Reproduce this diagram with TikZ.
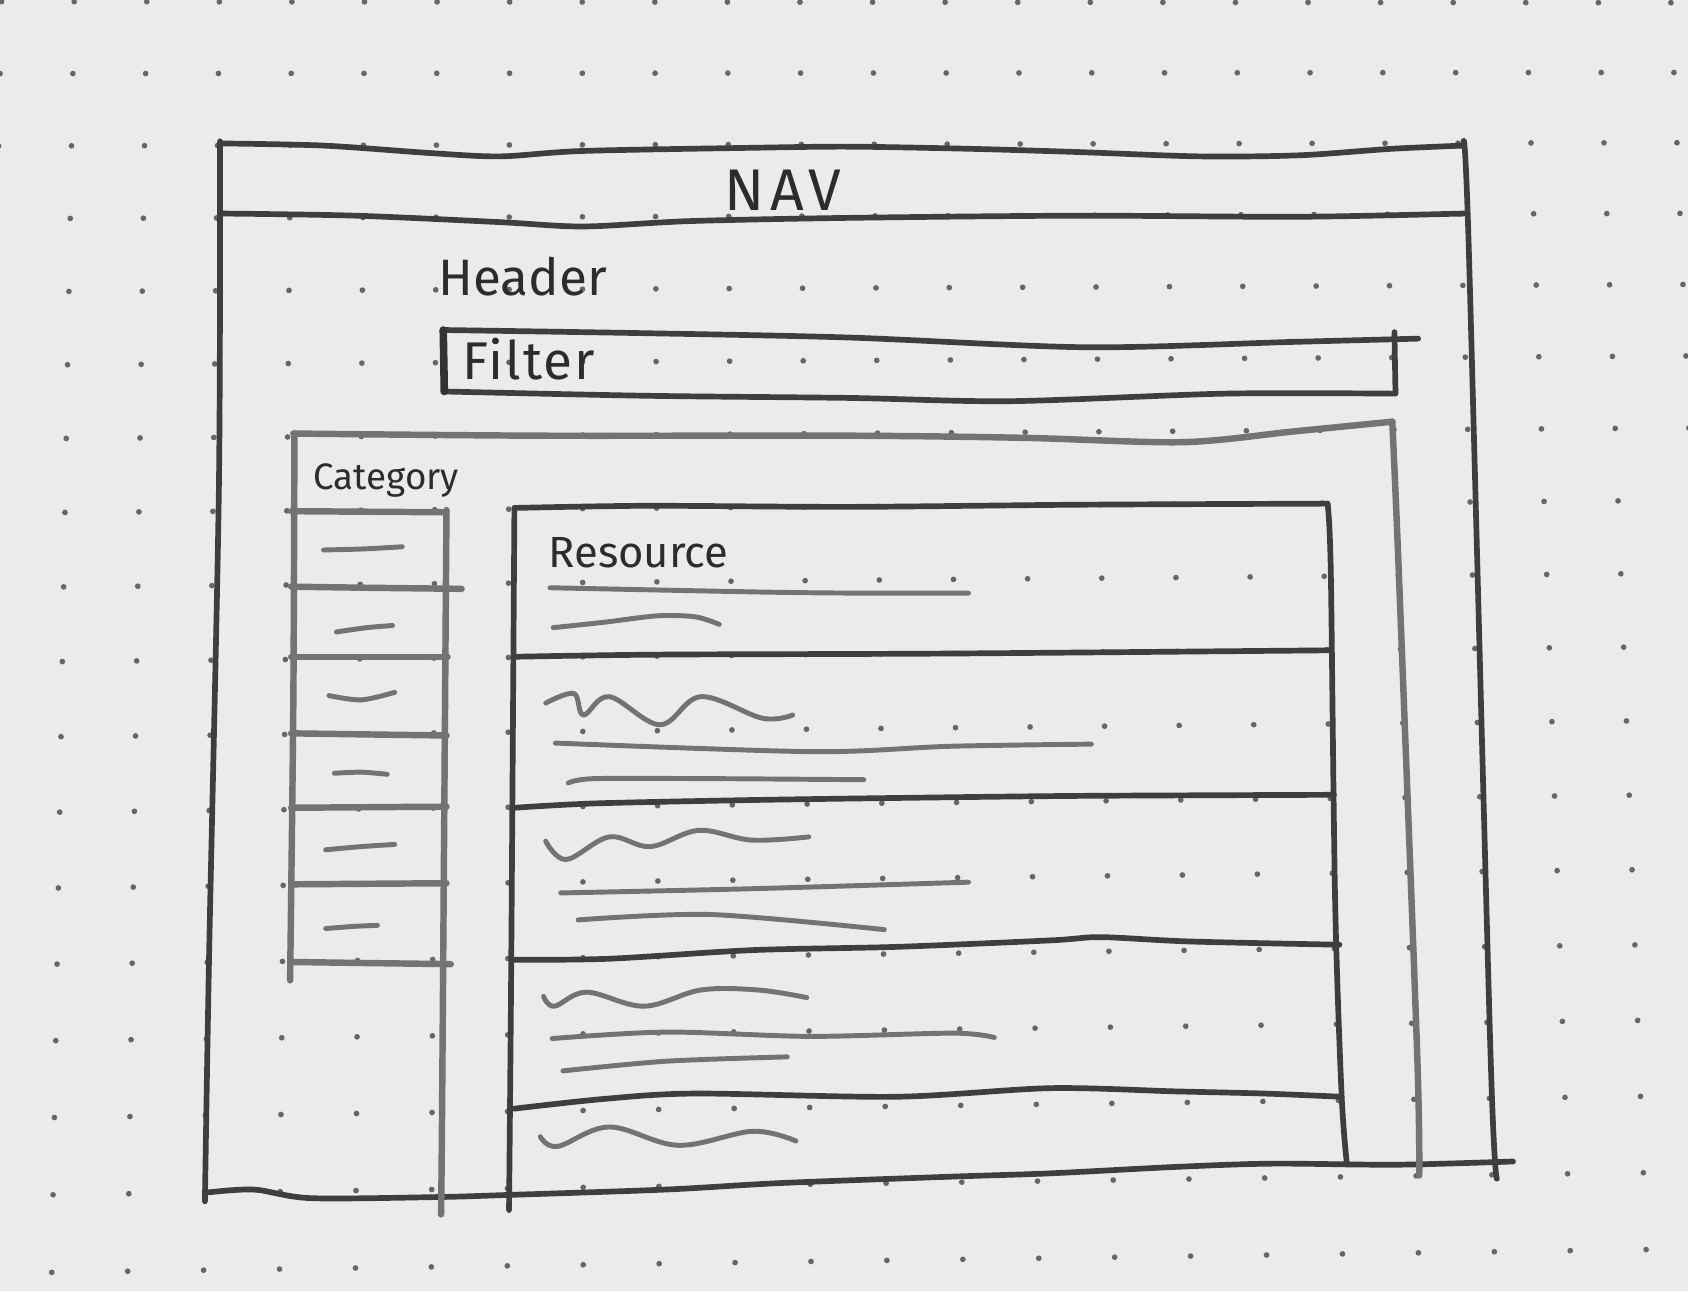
\documentclass[tikz,border=0pt]{standalone}
\usepackage{fontspec}
\setmainfont{Fira Sans}
\usepackage{tikz}
\usepackage{xcolor}
\definecolor{papel}{HTML}{EBEBEB}
\definecolor{punto}{HTML}{666666}
\definecolor{trazo}{HTML}{3E3E3E}
\definecolor{trazoclaro}{HTML}{737373}
\definecolor{tinta}{HTML}{2C2C2C}

\begin{document}
\begin{tikzpicture}[x=0.01cm, y=-0.01cm]

    % Estilos para los trazos y los textos
    \tikzstyle{lapiz}=[draw=trazo, line width=1.5pt, line cap=round, line join=round]
    \tikzstyle{lapizsuave}=[draw=trazoclaro, line width=1.7pt, line cap=round, line join=round]
    \tikzstyle{garabato}=[draw=trazoclaro, line width=1.3pt, line cap=round, line join=round]
    \tikzstyle{texto}=[text=tinta, inner sep=0pt]

    % Hoja punteada
    \useasboundingbox (0,0) rectangle (1568,1200);
    \fill[white] (0,0) rectangle (1568,1200);
    \fill[papel] (0,0) rectangle (1565,1197);
    \begin{scope}
    \clip (0,0) rectangle (1565,1197);
    \foreach \i in {0,...,23} {
      \foreach \j in {0,...,17} {
        \pgfmathsetmacro\fy{\j/17}
        \pgfmathsetmacro\fx{\i/23}
        \pgfmathsetmacro\puntox{(1-\fy)*(1.5+67.3*\i)+\fy*(-22.4+70.4*\i)}
        \pgfmathsetmacro\puntoy{(1-\fx)*(1.5+66.6*\j+0.163*\j*\j)+\fx*(2.5+64.5*\j+0.203*\j*\j)}
        \fill[punto] (\puntox,\puntoy) circle[radius=0.75pt];
      }
    }
    \end{scope}

    % Marco exterior y barra NAV
    \draw[lapiz] plot[smooth, tension=0.5] coordinates {(204,133) (300,135) (400,142) (464,145) (540,140) (700,137) (788,136) (900,138) (1000,141) (1112,145) (1205,144) (1290,138) (1357,135)};
    \draw[lapiz] plot[smooth, tension=0.5] coordinates {(206,198) (330,200) (464,206) (541,210) (640,205) (788,202) (1000,200) (1205,201) (1357,198)};
    \draw[lapiz] plot[smooth, tension=0.5] coordinates {(204,131) (203,450) (194,880) (190,1114)};
    \draw[lapiz] plot[smooth, tension=0.5] coordinates {(1357,131) (1362,232) (1382,974) (1388,1093)};
    \draw[lapiz] plot[smooth, tension=0.5] coordinates {(190,1106) (235,1103) (288,1111) (405,1110) (472,1108) (618,1103) (724,1097) (884,1091) (974,1088) (1091,1082) (1180,1079) (1295,1080) (1403,1077)};

    % Textos
    \node[texto, font=\fontsize{15.5}{16}\selectfont\addfontfeature{LetterSpace=9}] (nav) at (726,176) {NAV};
    \node[texto, anchor=base west, font=\fontsize{13.5}{14}\selectfont] (cabecera) at (406,274) {Header};
    \node[texto, anchor=base west, font=\fontsize{14}{15}\selectfont\addfontfeature{LetterSpace=4}] (filtro) at (428,352) {Filter};
    \node[texto, anchor=base west, font=\fontsize{9.7}{12}\selectfont] (categoria) at (290,454) {Category};
    \node[texto, anchor=base west, font=\fontsize{11.5}{12}\selectfont] (recurso) at (508,526) {Resource};

    % Caja del filtro
    \draw[lapiz] plot[smooth, tension=0.5] coordinates {(411,306) (600,309) (788,313) (1007,322) (1200,317) (1315,314)};
    \draw[lapiz] plot[smooth, tension=0.5] coordinates {(411,363) (600,367) (788,369) (937,372) (1136,365) (1293,365)};
    \draw[lapiz, line width=2pt, draw=black!80] (411,306) -- (412,363);
    \draw[lapiz] (1293,308) -- (1294,365);

    % Panel de contenido
    \draw[lapizsuave] plot[smooth, tension=0.5] coordinates {(272,402) (500,404) (788,404) (950,406) (1097,410) (1200,400) (1291,391)};
    \draw[lapizsuave] plot[smooth, tension=0.5] coordinates {(1291,391) (1297,529) (1314,974) (1316,1090)};

    % Columna de categorias
    \draw[lapizsuave] plot[smooth, tension=0.5] coordinates {(273,402) (272,650) (269,909)};
    \draw[lapizsuave] plot[smooth, tension=0.5] coordinates {(414,473) (410,1020) (409,1126)};
    \foreach \ya/\yb/\xf in {474/475/414, 544/546/428, 609/609/415, 680/682/414, 749/748/414, 820/819/414, 892/894/418}
        \draw[lapizsuave] plot[smooth, tension=0.5] coordinates {(270,\ya) (340,{(\ya+\yb)/2}) (\xf,\yb)};
    \draw[garabato] plot[smooth] coordinates {(300,510) (337,509) (373,507)};
    \draw[garabato] plot[smooth] coordinates {(312,586) (340,582) (364,580)};
    \draw[garabato] plot[smooth] coordinates {(305,645) (335,649) (366,642)};
    \draw[garabato] plot[smooth] coordinates {(310,717) (335,716) (359,718)};
    \draw[garabato] plot[smooth] coordinates {(302,788) (335,785) (366,783)};
    \draw[garabato] plot[smooth] coordinates {(302,861) (328,859) (350,858)};

    % Lista de recursos
    \draw[lapiz] plot[smooth, tension=0.5] coordinates {(477,471) (474,900) (472,1122)};
    \draw[lapiz] plot[smooth, tension=0.5] coordinates {(477,471) (600,469) (788,470) (1000,468) (1231,467)};
    \draw[lapiz] plot[smooth, tension=0.5] coordinates {(1231,467) (1234,530) (1238,835) (1244,1015) (1249,1080)};
    \draw[lapiz] plot[smooth, tension=0.5] coordinates {(477,609) (612,607) (881,606) (1233,603)};
    \draw[lapiz] plot[smooth, tension=0.5] coordinates {(477,749) (551,745) (688,742) (825,740) (1000,738) (1237,737)};
    \draw[lapiz] plot[smooth, tension=0.5] coordinates {(477,890) (565,889) (698,881) (831,878) (974,872) (1021,869) (1103,873) (1242,876)};
    \draw[lapiz] plot[smooth, tension=0.5] coordinates {(477,1028) (560,1019) (645,1014) (831,1017) (974,1009) (1090,1012) (1172,1014) (1244,1017)};

    % Renglones de cada recurso
    \draw[garabato] plot[smooth] coordinates {(510,545) (707,549) (800,550) (898,550)};
    \draw[garabato] plot[smooth] coordinates {(513,582) (560,577) (610,571) (645,572) (667,579)};
    \draw[garabato] plot[smooth, tension=0.6] coordinates {(506,652) (532,643) (541,663) (565,646) (612,672) (650,646) (707,666) (735,663)};
    \draw[garabato] plot[smooth] coordinates {(515,689) (754,697) (881,692) (1012,690)};
    \draw[garabato] plot[smooth] coordinates {(527,726) (551,722) (659,722) (801,723)};
    \draw[garabato] plot[smooth, tension=0.6] coordinates {(506,780) (525,797) (565,776) (603,785) (648,770) (697,779) (750,776)};
    \draw[garabato] plot[smooth] coordinates {(520,828) (700,824) (898,818)};
    \draw[garabato] plot[smooth] coordinates {(536,853) (659,848) (820,862)};
    \draw[garabato] plot[smooth, tension=0.6] coordinates {(504,924) (514,933) (544,920) (597,933) (650,918) (703,918) (748,925)};
    \draw[garabato] plot[smooth] coordinates {(512,963) (618,957) (751,961) (884,958) (922,962)};
    \draw[garabato] plot[smooth] coordinates {(522,993) (618,984) (730,980)};
    \draw[garabato] plot[smooth, tension=0.6] coordinates {(501,1054) (517,1063) (565,1045) (629,1062) (698,1049) (738,1058)};
\end{tikzpicture}
\end{document}
